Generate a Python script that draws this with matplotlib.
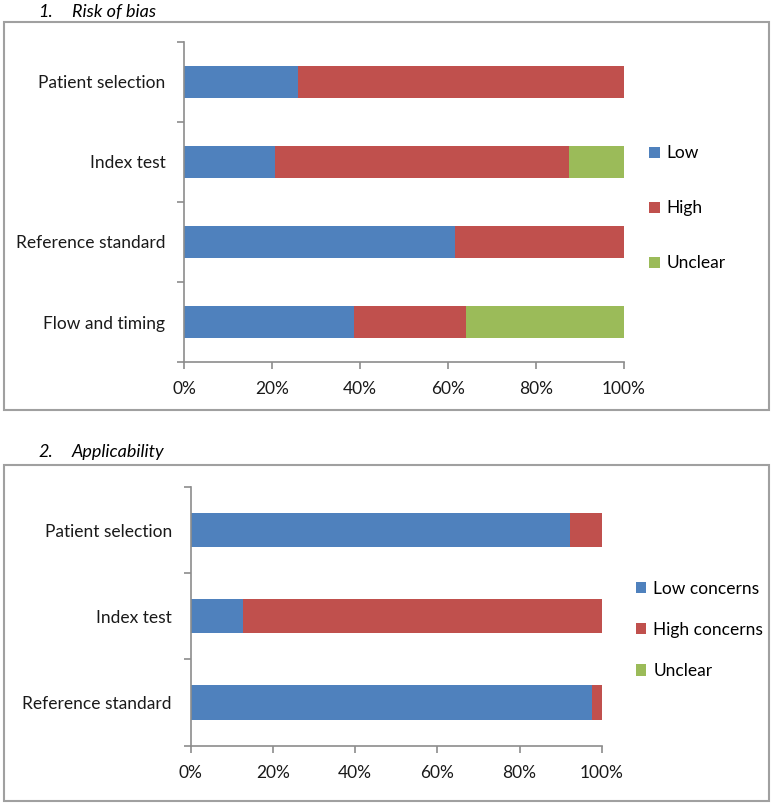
import matplotlib.pyplot as plt
from matplotlib.patches import Rectangle
from matplotlib.ticker import FixedLocator, PercentFormatter
import numpy as np

plt.rcParams['font.family'] = ['Lato', 'DejaVu Sans']

# Panel 1 - risk of bias
rob_domains = ['Patient selection', 'Index test', 'Reference standard', 'Flow and timing']
rob_low = [25.8, 20.6, 61.7, 38.6]
rob_high = [74.2, 66.8, 38.3, 25.6]
rob_unclear = [0.0, 12.6, 0.0, 35.8]
rob_labels = ['Low', 'High', 'Unclear']

# Panel 2 - applicability concerns
app_domains = ['Patient selection', 'Index test', 'Reference standard']
app_low = [92.3, 12.7, 97.6]
app_high = [7.7, 87.3, 2.4]
app_unclear = [0.0, 0.0, 0.0]
app_labels = ['Low concerns', 'High concerns', 'Unclear']

colors = ['#4F81BD', '#C0504D', '#9BBB59']
axis_col = '#8C8C8C'

W, H = 774, 806
fig = plt.figure(figsize=(W / 100, H / 100), dpi=100)


def px(x0, y0, x1, y1):
    # pixel box (top-left origin) -> figure fraction rect
    return [x0 / W, 1 - y1 / H, (x1 - x0) / W, (y1 - y0) / H]


def panel(rect, domains, series, labels, legend_pos, spacing):
    ax = fig.add_axes(rect)
    y = np.arange(len(domains))
    left = np.zeros(len(domains))
    for vals, col, lab in zip(series, colors, labels):
        ax.barh(y, vals, left=left, height=0.4, color=col, label=lab)
        left += np.array(vals)
    ax.set_xlim(0, 100)
    ax.set_ylim(len(domains) - 0.5, -0.5)
    ax.set_yticks(y)
    ax.set_yticklabels(domains)
    ax.yaxis.set_minor_locator(FixedLocator(np.arange(len(domains) + 1) - 0.5))
    ax.set_xticks(np.arange(0, 101, 20))
    ax.xaxis.set_major_formatter(PercentFormatter(decimals=0))
    for s in ['top', 'right']:
        ax.spines[s].set_visible(False)
    for s in ['left', 'bottom']:
        ax.spines[s].set_color(axis_col)
        ax.spines[s].set_linewidth(1.2)
    ax.tick_params(axis='y', which='major', length=0, pad=13.5, labelsize=12.5, labelcolor='#1a1a1a')
    ax.tick_params(axis='y', which='minor', length=5, color=axis_col, width=1.2)
    ax.tick_params(axis='x', length=5, color=axis_col, width=1.2, pad=9, labelsize=12.5, labelcolor='#1a1a1a')
    ax.legend(loc='center left', bbox_to_anchor=legend_pos, frameon=False,
              fontsize=12.5, handlelength=0.6, handleheight=0.6, handletextpad=0.4,
              labelspacing=spacing, borderaxespad=0)
    return ax


panel(px(184, 42, 624, 362), rob_domains, [rob_low, rob_high, rob_unclear],
      rob_labels, (1.042, 0.48), 2.25)
panel(px(190.7, 487, 601.7, 745.5), app_domains, [app_low, app_high, app_unclear],
      app_labels, (1.066, 0.447), 1.45)

# panel frames
for (x0, y0, x1, y1) in [(4, 22, 769, 410), (4, 465, 769, 801)]:
    fig.patches.append(Rectangle((x0 / W, 1 - y1 / H), (x1 - x0) / W, (y1 - y0) / H,
                                 transform=fig.transFigure, fill=False,
                                 edgecolor='#A0A0A0', linewidth=1.5))

# section titles
for yy, num, title in [(12, '1.', 'Risk of bias'), (452, '2.', 'Applicability')]:
    fig.text(38 / W, 1 - yy / H, num, style='italic', fontsize=13, va='center')
    fig.text(72 / W, 1 - yy / H, title, style='italic', fontsize=13, va='center')

fig.savefig('out.png', dpi=100)
